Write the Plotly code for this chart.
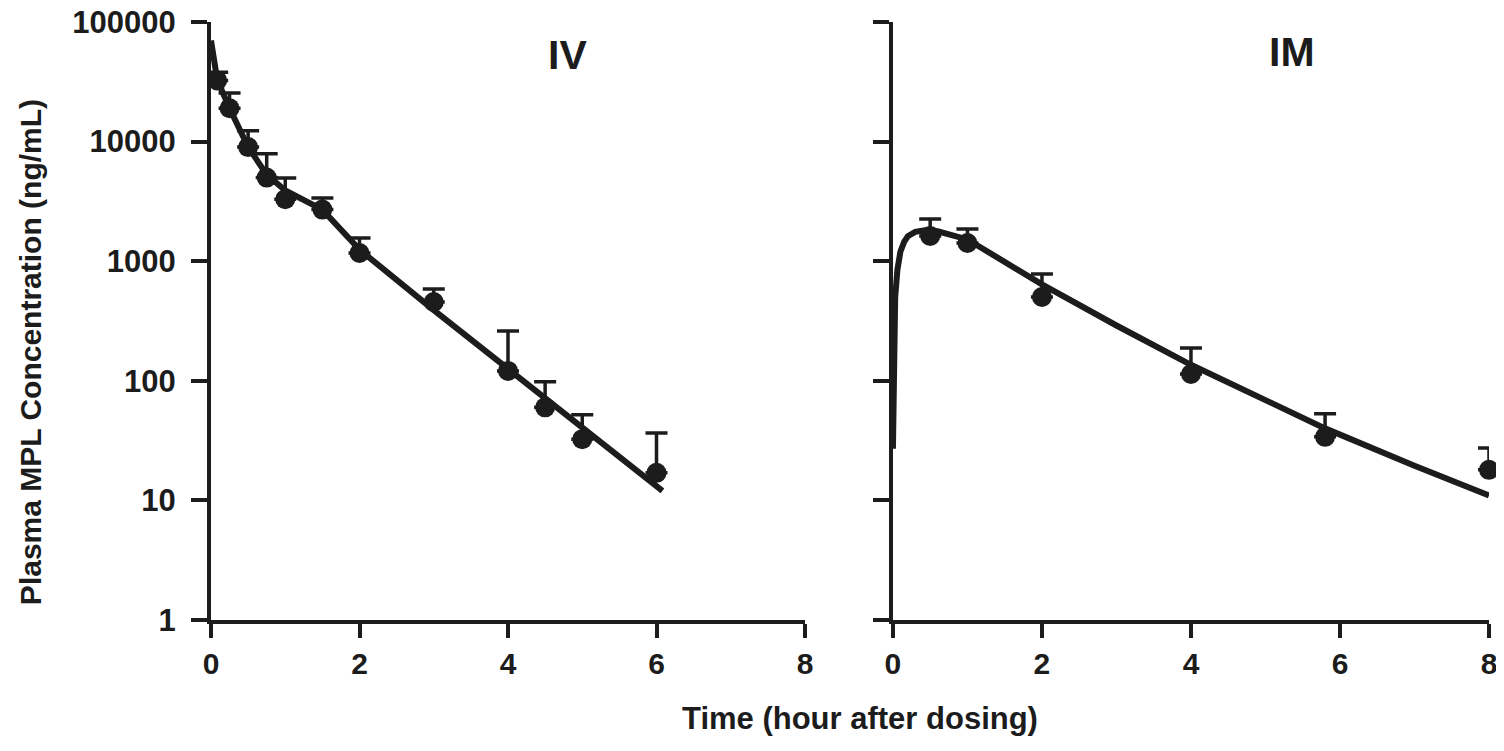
import plotly.graph_objects as go

# ---- IV data ----
iv_time = [0.083, 0.25, 0.5, 0.75, 1, 1.5, 2, 3, 4, 4.5, 5, 6]
iv_mean = [32500, 19000, 9000, 5000, 3300, 2700, 1170, 456, 121, 60, 32.5, 17]
iv_upper = [38000, 25500, 12300, 7900, 4970, 3380, 1560, 586, 261, 98, 52, 36.6]

iv_fit_time = [0, 0.083, 0.25, 0.5, 0.75, 1, 1.5, 2, 3, 4, 5, 6, 6.08]
iv_fit_conc = [70000, 33000, 19000, 9000, 5300, 3900, 2700, 1250, 390, 126, 41, 13.5, 12]

# ---- IM data ----
im_time = [0.5, 1, 2, 4, 5.8, 8]
im_mean = [1625, 1420, 502, 114, 34, 18]
im_upper = [2250, 1860, 782, 188, 53, 27.4]

im_fit_time = [0, 0.01, 0.03, 0.06, 0.1, 0.15, 0.2, 0.3, 0.45, 0.6, 1, 2, 3, 4, 5, 5.8, 7, 8]
im_fit_conc = [27, 200, 500, 850, 1200, 1450, 1620, 1760, 1820, 1780, 1520, 640, 290, 136, 68, 40, 19.5, 11]

y_tickvals = [1, 10, 100, 1000, 10000, 100000]
y_ticktext = ["1", "10", "100", "1000", "10000", "100000"]
x_tickvals = [0, 2, 4, 6, 8]
x_ticktext = ["0", "2", "4", "6", "8"]

INK = "#1c1c1c"
FONT = "Liberation Sans, Arial, sans-serif"

fig = go.Figure()

def add_panel(fit_t, fit_c, t, mean, upper, xa, ya):
    fig.add_trace(go.Scatter(
        x=t, y=mean, mode="markers",
        marker=dict(size=20, color=INK),
        error_y=dict(type="data", symmetric=False,
                     array=[u - m for u, m in zip(upper, mean)],
                     arrayminus=[0] * len(mean),
                     color=INK, thickness=3.5, width=11),
        cliponaxis=False, showlegend=False, xaxis=xa, yaxis=ya))
    fig.add_trace(go.Scatter(
        x=fit_t, y=fit_c, mode="lines",
        line=dict(color=INK, width=6),
        cliponaxis=False, showlegend=False, xaxis=xa, yaxis=ya))

add_panel(iv_fit_time, iv_fit_conc, iv_time, iv_mean, iv_upper, "x", "y")
add_panel(im_fit_time, im_fit_conc, im_time, im_mean, im_upper, "x2", "y2")

xcommon = dict(range=[0, 8], tickvals=x_tickvals, ticktext=x_ticktext,
               showline=True, linewidth=4, linecolor=INK, ticks="outside",
               ticklen=14, tickwidth=4, tickcolor=INK, showgrid=False, zeroline=False,
               tickfont=dict(family=FONT, size=30, color=INK, weight="bold"),
               ticklabelstandoff=0, ticklabeloverflow="allow", automargin=False)
ycommon = dict(type="log", range=[0, 5], tickvals=y_tickvals,
               showline=True, linewidth=4, linecolor=INK, ticks="outside",
               ticklen=16, tickwidth=4, tickcolor=INK, showgrid=False, zeroline=False,
               tickfont=dict(family=FONT, size=31, color=INK, weight="bold"),
               ticklabelstandoff=9, ticklabeloverflow="allow", automargin=False)

fig.update_layout(
    width=1496, height=743,
    margin=dict(l=203, r=15, t=14, b=131),
    paper_bgcolor="white", plot_bgcolor="white",
    xaxis=dict(domain=[0, 0.4648], anchor="y", **xcommon),
    xaxis2=dict(domain=[0.5336, 1], anchor="y2", **xcommon),
    yaxis=dict(domain=[0, 1], anchor="x", ticktext=y_ticktext, **ycommon),
    yaxis2=dict(domain=[0, 1], anchor="x2", showticklabels=False, **ycommon),
    annotations=[
        dict(text="IV", xref="paper", yref="paper", x=0.2793, y=0.945,
             xanchor="center", yanchor="middle", showarrow=False,
             font=dict(family=FONT, size=41, color=INK, weight="bold")),
        dict(text="IM", xref="paper", yref="paper", x=0.846, y=0.95,
             xanchor="center", yanchor="middle", showarrow=False,
             font=dict(family=FONT, size=41, color=INK, weight="bold")),
        dict(text="Plasma MPL Concentration (ng/mL)", xref="paper", yref="paper",
             x=-0.1416, y=0.448, xanchor="center", yanchor="middle",
             textangle=-90, showarrow=False,
             font=dict(family=FONT, size=30, color=INK, weight="bold")),
        dict(text="Time (hour after dosing)", xref="paper", yref="paper",
             x=0.5078, y=-0.1639, xanchor="center", yanchor="middle", showarrow=False,
             font=dict(family=FONT, size=31, color=INK, weight="bold")),
    ],
)

fig.write_html("out.html")
